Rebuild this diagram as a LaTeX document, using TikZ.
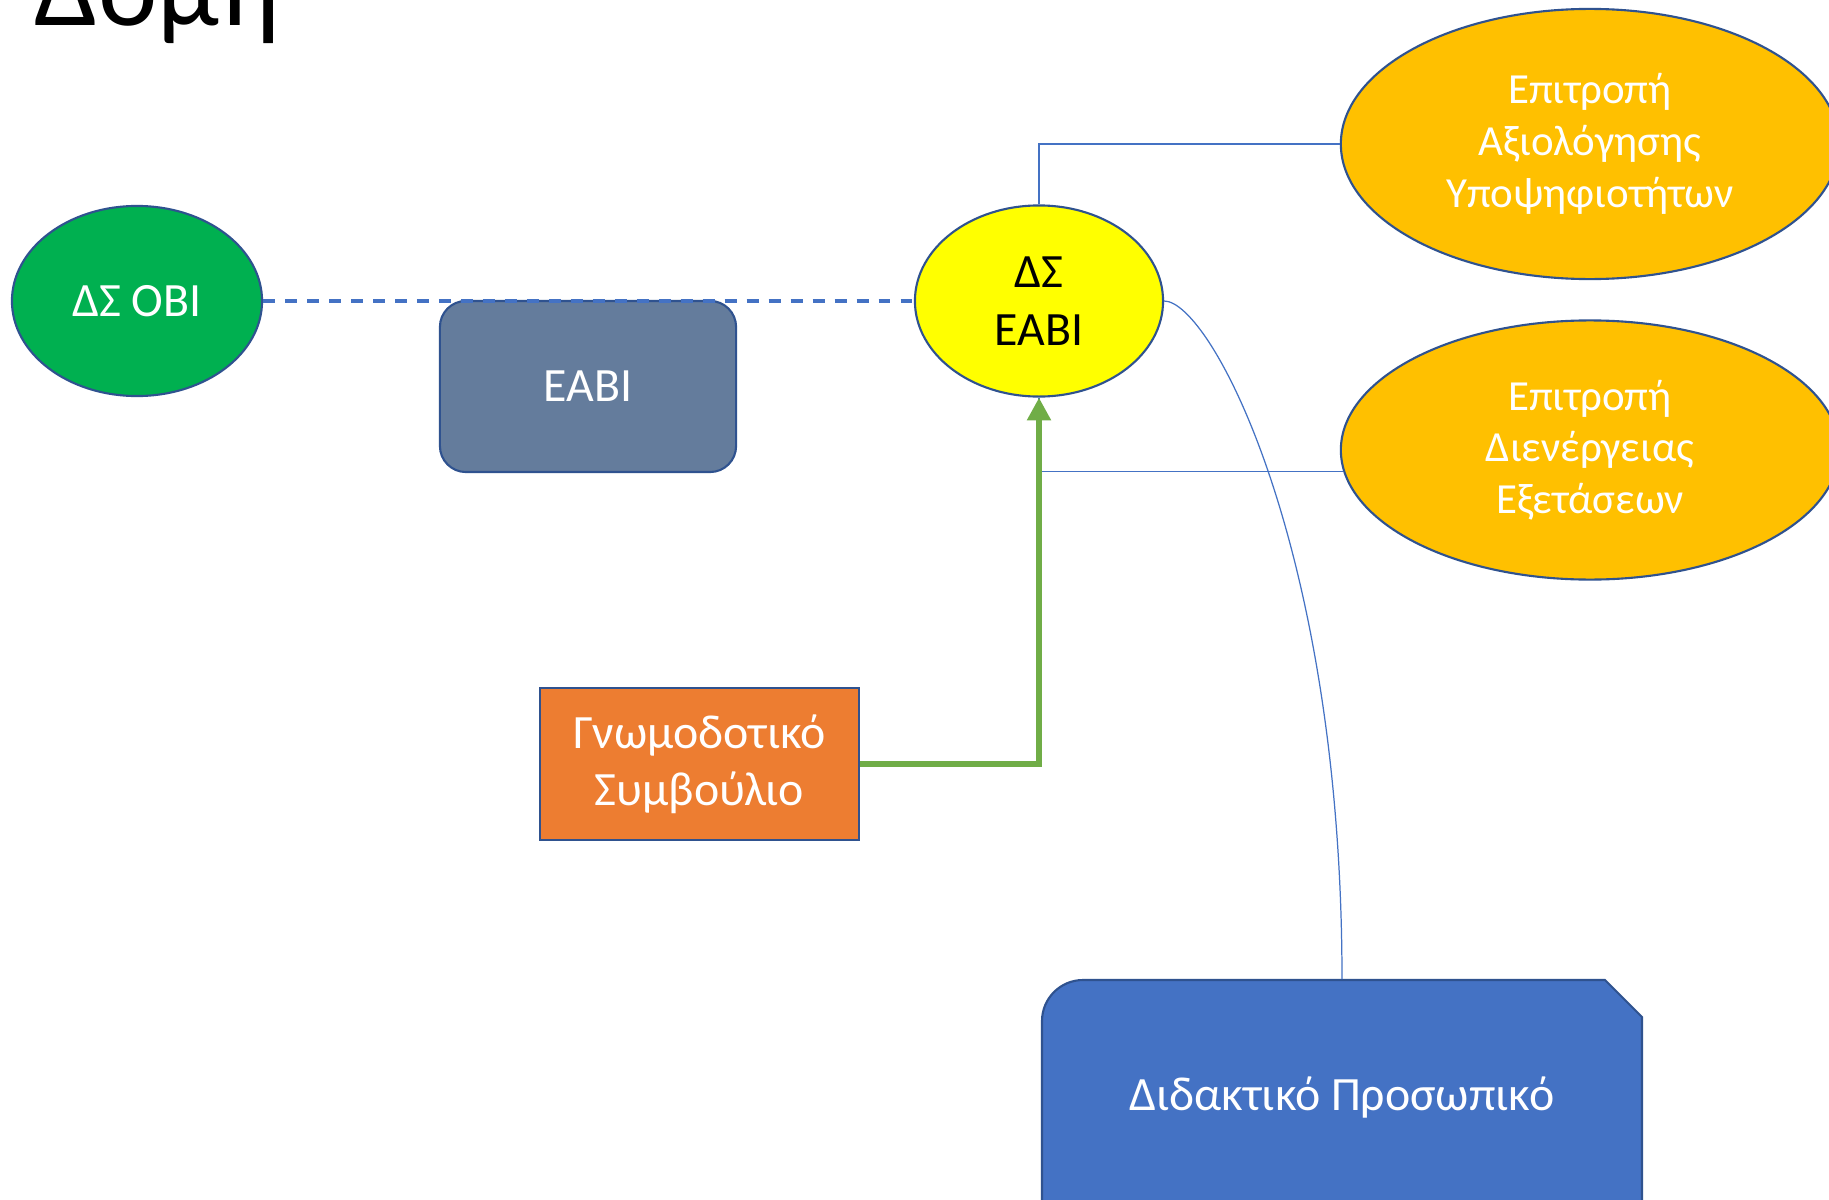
\documentclass[tikz,border=0pt]{standalone}
\usepackage{fontspec}
\setmainfont{Carlito}
\usetikzlibrary{shapes.geometric,arrows.meta}
\definecolor{dkblue}{HTML}{2F528F}
\definecolor{accblue}{HTML}{4472C4}
\definecolor{grfill}{HTML}{00B050}
\definecolor{yel}{HTML}{FFFF00}
\definecolor{gold}{HTML}{FFC000}
\definecolor{slate}{HTML}{647C9C}
\definecolor{orng}{HTML}{ED7D31}
\definecolor{grline}{HTML}{70AD47}
\begin{document}
\begin{tikzpicture}[x=0.01cm,y=-0.01cm,
  bigtxt/.style={font=\fontsize{13.6}{16.3}\selectfont, align=center},
  smalltxt/.style={font=\fontsize{12.2}{14.7}\selectfont, align=center},
  shapeborder/.style={draw=dkblue, line width=0.6pt},
  ell/.style={ellipse, shapeborder, inner sep=0pt},
  thinconn/.style={draw=accblue, line width=0.35pt},
]
\useasboundingbox (0,0) rectangle (1829,1200);
\clip (0,0) rectangle (1829,1200);
\fill[white] (0,0) rectangle (1829,1200);

% title
\node[anchor=base west, inner sep=0pt, font=\fontsize{32}{38}\selectfont] (title) at (34,25) {Δομή};

% nodes
\node[ell, fill=grfill, minimum width=2.5cm, minimum height=1.9cm, bigtxt, text=white] (dsobi) at (137,301) {ΔΣ ΟΒΙ};
\node[rectangle, rounded corners=0.26cm, shapeborder, fill=slate, minimum width=2.96cm, minimum height=1.71cm, inner sep=0pt, bigtxt, text=white] (eabi) at (588,386.5) {ΕΑΒΙ};
\node[ell, fill=yel, minimum width=2.48cm, minimum height=1.91cm, bigtxt, text=black] (dse) at (1039,301) {ΔΣ\\ΕΑΒΙ};
\node[ell, fill=gold, minimum width=4.98cm, minimum height=2.70cm, smalltxt, text=white] (eay) at (1590,144) {Επιτροπή\\Αξιολόγησης\\Υποψηφιοτήτων};
\node[ell, fill=gold, minimum width=4.98cm, minimum height=2.59cm, smalltxt, text=white] (ede) at (1590,450) {Επιτροπή\\Διενέργειας\\Εξετάσεων};
\node[rectangle, shapeborder, fill=orng, minimum width=3.19cm, minimum height=1.52cm, inner sep=0pt, bigtxt, text=white] (gs) at (699.5,764) {Γνωμοδοτικό\\Συμβούλιο};

% Didaktiko shape (single rounded + single snipped corner)
\filldraw[fill=accblue, draw=dkblue, line width=0.6pt]
  (1042,1216) -- (1042,1021) .. controls (1042,998.4) and (1060.4,980) .. (1083,980)
  -- (1605,980) -- (1642,1017) -- (1642,1216) -- cycle;
\node[rectangle, minimum width=6.0cm, minimum height=2.36cm, inner sep=0pt, bigtxt, text=white] (dp) at (1342,1098) {Διδακτικό Προσωπικό};

% connectors
\draw[thinconn] (dse.north) |- (eay.west);
\draw[thinconn] (dse.south) |- (ede.185);
\draw[thinconn] (dse.east) .. controls +(47,0) and +(0,-430) .. (dp.north);
\draw[draw=accblue, line width=1.1pt, dash pattern=on 3.4pt off 2.85pt] (dsobi.east) -- (dse.west);
\draw[draw=grline, line width=1.7pt, -{Triangle[length=6.5pt,width=6.5pt]}] (gs.east) -| (dse.south);
\end{tikzpicture}
\end{document}
